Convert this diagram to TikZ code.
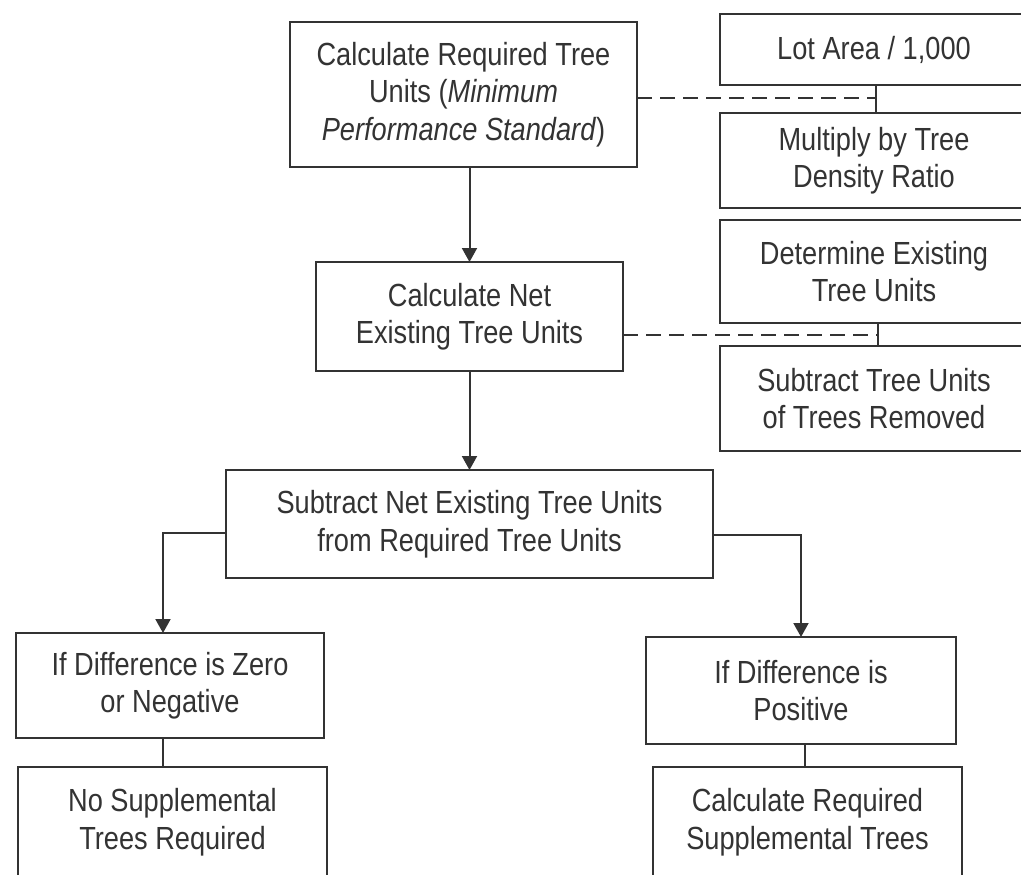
\documentclass[tikz,border=0pt]{standalone}
\usepackage{fontspec}
\setmainfont{Liberation Sans}[FakeStretch=0.85]
\usetikzlibrary{arrows.meta}
\definecolor{ink}{HTML}{333333}
\begin{document}
\begin{tikzpicture}[x=1pt,y=-1pt,
  box/.style={draw=ink, line width=2pt, inner sep=0pt, outer sep=0pt, align=center, text=ink,
              font=\fontsize{32}{37.5}\selectfont},
  arr/.style={draw=ink, line width=2pt, -{Triangle[length=14pt,width=15pt]}},
  link/.style={draw=ink, line width=2pt},
  dashlink/.style={draw=ink, line width=2pt, dash pattern=on 15pt off 8pt}]
\useasboundingbox (0,0) rectangle (1021,875);
\clip (0,0) rectangle (1021,875);
\fill[white] (0,0) rectangle (1021,875);

\node[box, minimum width=347pt, minimum height=145pt] (b1) at (463.5,94.5)
  {Calculate Required Tree\\Units (\textit{Minimum}\\\textit{Performance Standard})};
\node[box, minimum width=308pt, minimum height=71pt] (lot) at (874,49.5) {Lot Area / 1,000};
\node[box, minimum width=308pt, minimum height=95pt] (mul) at (874,160.5) {Multiply by Tree\\Density Ratio};
\node[box, minimum width=308pt, minimum height=103pt] (det) at (874,271.5) {Determine Existing\\Tree Units};
\node[box, minimum width=308pt, minimum height=105pt] (sub) at (874,398.5) {Subtract Tree Units\\of Trees Removed};
\node[box, minimum width=307pt, minimum height=109pt] (net) at (469.5,316.5) {Calculate Net\\Existing Tree Units};
\node[box, minimum width=487pt, minimum height=108pt] (diff) at (469.5,524) {Subtract Net Existing Tree Units\\from Required Tree Units};
\node[box, minimum width=308pt, minimum height=105pt] (zero) at (170,685.5) {If Difference is Zero\\or Negative};
\node[box, minimum width=309pt, minimum height=110pt] (nosup) at (172.5,822) {No Supplemental\\Trees Required};
\node[box, minimum width=310pt, minimum height=107pt] (pos) at (801,690.5) {If Difference is\\Positive};
\node[box, minimum width=309pt, minimum height=110pt] (calc) at (807.5,822) {Calculate Required\\Supplemental Trees};

% main flow
\draw[arr] (net.north |- b1.south) -- (net.north);
\draw[arr] (net.south) -- (diff.north);
\draw[arr] ([yshift=-9pt]diff.west) -| ([xshift=-7pt]zero.north);
\draw[arr] ([yshift=-11pt]diff.east) -| (pos.north);
\draw[link] ([xshift=-7pt]zero.south) -- ([xshift=-7pt]zero.south |- nosup.north);
\draw[link] ([xshift=4pt]pos.south) -- ([xshift=4pt]pos.south |- calc.north);

% side details
\coordinate (j1) at (876,98);
\coordinate (j2) at (878,335);
\draw[dashlink] (b1.east |- j1) -- (j1);
\draw[link] (j1 |- lot.south) -- (j1 |- mul.north);
\draw[dashlink] (net.east |- j2) -- (j2);
\draw[link] (j2 |- det.south) -- (j2 |- sub.north);
\end{tikzpicture}
\end{document}
